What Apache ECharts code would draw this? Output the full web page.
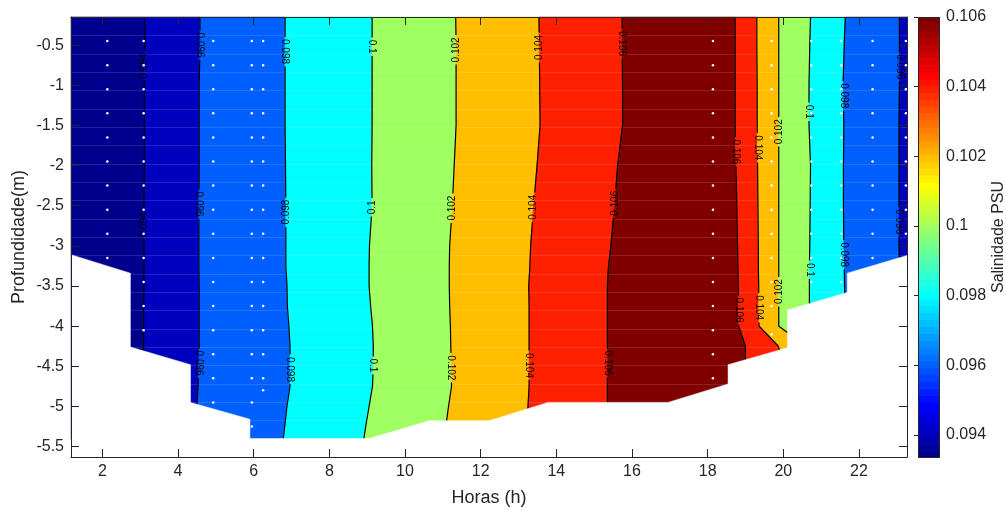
<!DOCTYPE html>
<html>
<head>
<meta charset="utf-8">
<script src="https://cdn.jsdelivr.net/npm/echarts@6/dist/echarts.min.js"></script>
<style>
  html, body { margin: 0; padding: 0; background: #fff; }
  #chart { width: 1006px; height: 508px; }
</style>
</head>
<body>
<div id="chart"></div>
<script>
// Salinity section over a tidal day: hour (x) against depth (y), filled contours.

const hourRange = [1.17, 23.27];
const depthRange = [-5.63, -0.15];
const colorRange = [0.09337, 0.106];

const xTicks = [2, 4, 6, 8, 10, 12, 14, 16, 18, 20, 22];
const yTicks = [-0.5, -1, -1.5, -2, -2.5, -3, -3.5, -4, -4.5, -5, -5.5];
const colorTicks = [0.094, 0.096, 0.098, 0.1, 0.102, 0.104, 0.106];

// Depths at which each contour's crossing hour is given
const depthLevels = [-0.15, -0.5, -1.0, -1.5, -2.0, -2.5, -3.0, -3.25, -3.5, -3.75, -4.0, -4.25, -4.5, -4.75, -5.0, -5.25, -5.41];

// Rising salinity (flood)
const hours094 = [3.12, 3.12, 3.11, 3.11, 3.11, 3.10, 3.10, 3.10, 3.10, 3.09, 3.09, 3.09, 3.09, 3.09, 3.09, 3.09, 3.09];
const hours096 = [4.58, 4.58, 4.56, 4.56, 4.56, 4.55, 4.55, 4.55, 4.56, 4.56, 4.56, 4.56, 4.55, 4.53, 4.50, 4.50, 4.50];
const hours098 = [6.83, 6.83, 6.83, 6.83, 6.84, 6.85, 6.85, 6.85, 6.88, 6.89, 6.93, 6.96, 6.96, 6.96, 6.88, 6.82, 6.78];
const hours100 = [9.13, 9.13, 9.13, 9.13, 9.12, 9.13, 9.06, 9.05, 9.05, 9.09, 9.14, 9.16, 9.16, 9.14, 9.05, 8.96, 8.91];
const hours102 = [11.34, 11.35, 11.35, 11.35, 11.30, 11.25, 11.18, 11.17, 11.17, 11.18, 11.20, 11.21, 11.22, 11.23, 11.15, 11.08, 11.05];
const hours104 = [13.54, 13.55, 13.56, 13.57, 13.49, 13.40, 13.32, 13.30, 13.27, 13.28, 13.28, 13.28, 13.28, 13.28, 13.25, 13.24, 13.23];
const hours106 = [15.74, 15.74, 15.75, 15.75, 15.62, 15.54, 15.44, 15.38, 15.35, 15.35, 15.35, 15.35, 15.35, 15.35, 15.35, 15.35, 15.35];
// Falling salinity (ebb)
const hours106b = [18.73, 18.73, 18.73, 18.73, 18.75, 18.77, 18.79, 18.80, 18.81, 18.82, 18.82, 19.00, 19.00, 19.00, 19.00, 19.00, 19.00];
const hours104b = [19.30, 19.30, 19.31, 19.31, 19.32, 19.33, 19.34, 19.34, 19.35, 19.35, 19.36, 19.87, 20.00, 20.00, 20.00, 20.00, 20.00];
const hours102b = [19.88, 19.88, 19.88, 19.88, 19.88, 19.88, 19.88, 19.88, 19.88, 19.88, 19.88, 20.60, 20.60, 20.60, 20.60, 20.60, 20.60];
const hours100b = [20.72, 20.70, 20.68, 20.68, 20.72, 20.71, 20.70, 20.69, 20.69, 20.69, 20.69, 20.69, 20.69, 20.69, 20.69, 20.69, 20.69];
const hours098b = [21.64, 21.61, 21.58, 21.60, 21.59, 21.59, 21.60, 21.61, 21.62, 21.62, 21.62, 21.62, 21.62, 21.62, 21.62, 21.62, 21.62];
const hours096b = [23.07, 23.07, 23.07, 23.06, 23.06, 23.06, 23.06, 23.07, 23.07, 23.07, 23.07, 23.07, 23.07, 23.07, 23.07, 23.07, 23.07];

const contourLevels = [0.094, 0.096, 0.098, 0.1, 0.102, 0.104, 0.106, 0.106, 0.104, 0.102, 0.1, 0.098, 0.096];
const contourHours = [hours094, hours096, hours098, hours100, hours102, hours104, hours106,
                      hours106b, hours104b, hours102b, hours100b, hours098b, hours096b];
// Salinity class filling each band, left to right
const bandLevels = [0.09337, 0.094, 0.096, 0.098, 0.1, 0.102, 0.104, 0.106, 0.104, 0.102, 0.1, 0.098, 0.096, 0.094];

// Lower edge of the sampled section (bottom profile)
const edgeHours = [1.17, 2.74, 2.74, 4.33, 4.33, 5.90, 5.90, 9.05, 10.64, 12.22, 13.78, 16.95, 18.54, 18.54, 20.11, 20.11, 21.69, 21.69, 23.27];
const edgeDepths = [-3.11, -3.34, -4.26, -4.48, -4.95, -5.16, -5.40, -5.40, -5.18, -5.18, -4.95, -4.95, -4.72, -4.48, -4.27, -3.80, -3.58, -3.34, -3.12];

// Interpolation grid rows (top depth, bottom depth, number of rows)
const gridRows = [-0.15, -5.40, 24];

// Sampling stations
const sampleDepths = [-0.45, -0.75, -1.05, -1.35, -1.65, -1.95, -2.25, -2.55, -2.85, -3.15, -3.45, -3.75, -4.05, -4.35, -4.65, -4.95, -5.25];
const stationHours = [2.13, 3.09, 4.93, 5.95, 6.25, 18.14, 19.69, 20.74, 21.53, 22.36, 23.24];
const stationBottom = [-3.15, -4.05, -4.95, -5.25, -4.65, -4.65, -3.75, -3.45, -3.45, -3.15, -2.85];
const extraHours = [6.25, 19.69];
const extraDepths = [-4.80, -4.10];

// Contour labels: which contour, at what depth, and text direction
const labelLine  = [0, 1, 2, 1, 2, 0, 1, 2,  3, 4, 5, 6,  3, 4, 5, 6,  3, 4, 5, 6,  12, 11, 10, 9, 8, 7,  12, 11, 10, 9, 8, 7];
const labelDepth = [-0.76, -0.50, -0.58, -2.48, -2.58, -2.74, -4.46, -4.54,
                    -0.52, -0.56, -0.53, -0.48,  -2.52, -2.53, -2.52, -2.47,  -4.49, -4.52, -4.49, -4.46,
                    -0.77, -1.13, -1.33, -1.58, -1.78, -1.83,  -2.70, -3.11, -3.30, -3.57, -3.77, -3.80];
const labelTurn  = ['up', 'down', 'down', 'down', 'up', 'up', 'down', 'down',
                    'down', 'up', 'up', 'down',  'up', 'up', 'up', 'up',  'down', 'down', 'down', 'down',
                    'down', 'down', 'down', 'up', 'down', 'down',  'down', 'down', 'down', 'up', 'down', 'down'];

const FONT = '"Liberation Sans", Arial, Helvetica, sans-serif';
const INK = '#262626';

// MATLAB-style 64-step jet colormap
function jet64(k) {
  const b = k <= 8 ? (k + 8) / 16 : k <= 23 ? 1 : k <= 39 ? (40 - k) / 16 : 0;
  const g = k <= 8 ? 0 : k <= 24 ? (k - 8) / 16 : k <= 39 ? 1 : k <= 55 ? (56 - k) / 16 : 0;
  const r = k <= 24 ? 0 : k <= 40 ? (k - 24) / 16 : k <= 55 ? 1 : (72 - k) / 16;
  return 'rgb(' + Math.round(r * 255) + ',' + Math.round(g * 255) + ',' + Math.round(b * 255) + ')';
}
function colorFor(v) {
  let k = Math.floor((v - colorRange[0]) / (colorRange[1] - colorRange[0]) * 64 + 1e-9) + 1;
  k = Math.max(1, Math.min(64, k));
  return jet64(k);
}
const levelText = v => String(parseFloat(v.toFixed(3)));

const leftEdge = depthLevels.map(() => hourRange[0]);
const rightEdge = depthLevels.map(() => hourRange[1]);
const bandBounds = [leftEdge].concat(contourHours, [rightEdge]);

function hourAt(line, depth) {
  const h = contourHours[line];
  for (let k = 0; k < depthLevels.length - 1; k++) {
    const d0 = depthLevels[k], d1 = depthLevels[k + 1];
    if (depth <= d0 && depth >= d1) {
      const t = (depth - d0) / (d1 - d0);
      return h[k] + t * (h[k + 1] - h[k]);
    }
  }
  return h[h.length - 1];
}

const measureCtx = document.createElement('canvas').getContext('2d');
measureCtx.font = '10px ' + FONT;

function bandRender(params, api) {
  const i = params.dataIndex;
  const L = bandBounds[i], R = bandBounds[i + 1];
  const pts = [];
  for (let k = 0; k < depthLevels.length; k++) pts.push(api.coord([L[k], depthLevels[k]]));
  for (let k = depthLevels.length - 1; k >= 0; k--) pts.push(api.coord([R[k], depthLevels[k]]));
  const c = colorFor(bandLevels[i]);
  return { type: 'polygon', shape: { points: pts }, style: { fill: c, stroke: c, lineWidth: 0.6 } };
}

// Faint seams along the rows of the interpolation grid
function seamRender(params, api) {
  const step = (gridRows[0] - gridRows[1]) / (gridRows[2] - 1);
  const children = [];
  for (let r = 1; r < gridRows[2] - 1; r++) {
    const d = gridRows[0] - r * step;
    const a = api.coord([hourRange[0], d]), b = api.coord([hourRange[1], d]);
    const y = Math.round(a[1]) + 0.5;
    children.push({ type: 'line', shape: { x1: a[0], y1: y, x2: b[0], y2: y },
                    style: { stroke: 'rgba(255,255,255,0.13)', lineWidth: 1 } });
  }
  return { type: 'group', children };
}

function contourRender(params, api) {
  const li = params.dataIndex;
  const hrs = contourHours[li];
  const pts = depthLevels.map((d, k) => api.coord([hrs[k], d]));
  const gaps = [];
  labelLine.forEach((l, j) => {
    if (l !== li) return;
    const c = api.coord([hourAt(li, labelDepth[j]), labelDepth[j]]);
    const half = measureCtx.measureText(levelText(contourLevels[li])).width / 2 + 2;
    gaps.push([c[1] - half, c[1] + half]);
  });
  const inGap = y => gaps.some(g => y > g[0] && y < g[1]);
  const pieces = [];
  let cur = [];
  let seg = 0;
  const yEnd = pts[pts.length - 1][1];
  for (let y = pts[0][1]; y <= yEnd; y += 0.5) {
    while (seg < pts.length - 2 && y > pts[seg + 1][1]) seg++;
    const a = pts[seg], b = pts[seg + 1];
    const t = (y - a[1]) / (b[1] - a[1]);
    const x = a[0] + t * (b[0] - a[0]);
    if (inGap(y)) {
      if (cur.length > 1) pieces.push(cur);
      cur = [];
    } else {
      cur.push([x, y]);
    }
  }
  if (cur.length > 1) pieces.push(cur);
  return {
    type: 'group',
    children: pieces.map(p => ({
      type: 'polyline', shape: { points: p },
      style: { stroke: '#000', lineWidth: 1.2, fill: null }
    }))
  };
}

function maskRender(params, api) {
  const pts = edgeHours.map((h, k) => api.coord([h, edgeDepths[k]]));
  pts.push(api.coord([hourRange[1], depthRange[0]]));
  pts.push(api.coord([hourRange[0], depthRange[0]]));
  return { type: 'polygon', shape: { points: pts }, style: { fill: '#fff', stroke: '#fff', lineWidth: 0.5 } };
}

function labelRender(params, api) {
  const j = params.dataIndex;
  const li = labelLine[j];
  const c = api.coord([hourAt(li, labelDepth[j]), labelDepth[j]]);
  return {
    type: 'text',
    x: c[0], y: c[1],
    rotation: labelTurn[j] === 'up' ? Math.PI / 2 : -Math.PI / 2,
    style: {
      text: levelText(contourLevels[li]),
      font: '10px ' + FONT,
      fill: '#000',
      align: 'center', verticalAlign: 'middle',
      textAlign: 'center', textVerticalAlign: 'middle'
    }
  };
}

const cbStep = (colorRange[1] - colorRange[0]) / 64;
function colorbarRender(params, api) {
  const k = params.dataIndex;
  const v0 = colorRange[0] + k * cbStep, v1 = v0 + cbStep;
  const p0 = api.coord([0, v0]), p1 = api.coord([1, v1]);
  return {
    type: 'rect',
    shape: { x: p0[0], y: p1[1], width: p1[0] - p0[0], height: p0[1] - p1[1] + 0.6 },
    style: { fill: jet64(k + 1) }
  };
}
function colorbarFrame(params, api) {
  const p0 = api.coord([0, colorRange[0]]), p1 = api.coord([1, colorRange[1]]);
  return {
    type: 'rect',
    shape: { x: Math.round(p0[0]) + 0.5, y: Math.round(p1[1]) + 0.5,
             width: Math.round(p1[0] - p0[0]) - 1, height: Math.round(p0[1] - p1[1]) },
    style: { fill: null, stroke: INK, lineWidth: 1 }
  };
}

const samplePoints = [];
stationHours.forEach((h, s) => {
  sampleDepths.forEach(d => { if (d >= stationBottom[s] - 1e-9) samplePoints.push([h, d]); });
});
extraHours.forEach((h, k) => samplePoints.push([h, extraDepths[k]]));

const axisLineStyle = { show: true, onZero: false, lineStyle: { color: INK, width: 1 } };
const tickStyle = { color: INK, width: 1 };

const option = {
  animation: false,
  backgroundColor: '#fff',
  grid: [
    { left: 71, top: 17, width: 836, height: 440, outerBoundsMode: 'none' },
    { left: 918, top: 17, width: 22, height: 440, outerBoundsMode: 'none' }
  ],
  xAxis: [
    { gridIndex: 0, type: 'value', min: hourRange[0], max: hourRange[1], position: 'bottom', z: 10,
      axisLine: axisLineStyle,
      axisTick: { show: true, inside: true, length: 8, customValues: xTicks, lineStyle: tickStyle },
      axisLabel: { show: true, customValues: xTicks, color: INK, fontSize: 16, fontFamily: FONT, margin: 7 },
      splitLine: { show: false } },
    { gridIndex: 0, type: 'value', min: hourRange[0], max: hourRange[1], position: 'top', z: 10,
      axisLine: axisLineStyle,
      axisTick: { show: true, inside: true, length: 8, customValues: xTicks, lineStyle: tickStyle },
      axisLabel: { show: false }, splitLine: { show: false } },
    { gridIndex: 1, type: 'value', min: 0, max: 1, show: false }
  ],
  yAxis: [
    { gridIndex: 0, type: 'value', min: depthRange[0], max: depthRange[1], position: 'left', z: 10,
      axisLine: axisLineStyle,
      axisTick: { show: true, inside: true, length: 8, customValues: yTicks, lineStyle: tickStyle },
      axisLabel: { show: true, customValues: yTicks, color: INK, fontSize: 16, fontFamily: FONT, margin: 7 },
      splitLine: { show: false } },
    { gridIndex: 0, type: 'value', min: depthRange[0], max: depthRange[1], position: 'right', z: 10,
      axisLine: axisLineStyle,
      axisTick: { show: true, inside: true, length: 8, customValues: yTicks, lineStyle: tickStyle },
      axisLabel: { show: false }, splitLine: { show: false } },
    { gridIndex: 1, type: 'value', min: colorRange[0], max: colorRange[1], position: 'right', z: 10,
      axisLine: { show: false },
      axisTick: { show: true, inside: true, length: 4, customValues: colorTicks, lineStyle: tickStyle },
      axisLabel: { show: true, customValues: colorTicks, color: INK, fontSize: 16, fontFamily: FONT, margin: 6,
                   formatter: v => levelText(v) },
      splitLine: { show: false } }
  ],
  series: [
    { type: 'custom', name: 'bands', xAxisIndex: 0, yAxisIndex: 0, z: 2, silent: true,
      data: bandLevels.map((v, i) => [i]), renderItem: bandRender },
    { type: 'custom', name: 'seams', xAxisIndex: 0, yAxisIndex: 0, z: 2, silent: true,
      data: [[0]], renderItem: seamRender },
    { type: 'custom', name: 'contours', xAxisIndex: 0, yAxisIndex: 0, z: 3, silent: true,
      data: contourLevels.map((v, i) => [i]), renderItem: contourRender },
    { type: 'custom', name: 'bottom', xAxisIndex: 0, yAxisIndex: 0, z: 4, silent: true,
      data: [[0]], renderItem: maskRender },
    { type: 'custom', name: 'labels', xAxisIndex: 0, yAxisIndex: 0, z: 5, silent: true,
      data: labelLine.map((v, i) => [i]), renderItem: labelRender },
    { type: 'scatter', name: 'samples', xAxisIndex: 0, yAxisIndex: 0, z: 6, silent: true,
      symbol: 'circle', symbolSize: 2.5, itemStyle: { color: '#fff', opacity: 1 },
      data: samplePoints },
    { type: 'custom', name: 'colorbar', xAxisIndex: 2, yAxisIndex: 2, z: 2, silent: true,
      data: Array.from({ length: 64 }, (v, k) => [k]), renderItem: colorbarRender },
    { type: 'custom', name: 'colorbarFrame', xAxisIndex: 2, yAxisIndex: 2, z: 3, silent: true,
      data: [[0]], renderItem: colorbarFrame }
  ],
  graphic: [
    { type: 'text', x: 489, y: 498, z: 20,
      style: { text: 'Horas (h)', font: '18px ' + FONT, fill: INK,
               align: 'center', verticalAlign: 'middle', textAlign: 'center', textVerticalAlign: 'middle' } },
    { type: 'text', x: 19.5, y: 237, rotation: Math.PI / 2, z: 20,
      style: { text: 'Profundidade(m)', font: '18px ' + FONT, fill: INK,
               align: 'center', verticalAlign: 'middle', textAlign: 'center', textVerticalAlign: 'middle' } },
    { type: 'text', x: 998.5, y: 237, rotation: Math.PI / 2, z: 20,
      style: { text: 'Salinidade PSU', font: '16px ' + FONT, fill: INK,
               align: 'center', verticalAlign: 'middle', textAlign: 'center', textVerticalAlign: 'middle' } }
  ]
};

const chart = echarts.init(document.getElementById('chart'), null, { renderer: 'canvas' });
chart.setOption(option);
</script>
</body>
</html>
